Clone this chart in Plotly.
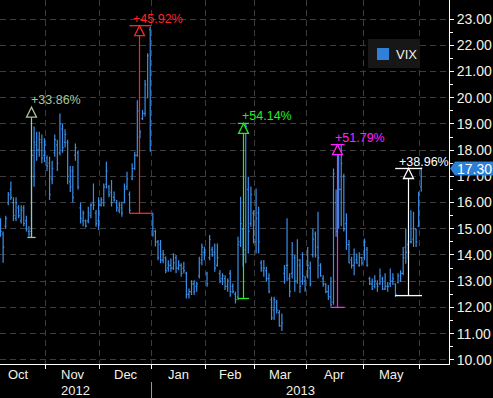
import numpy as np
import plotly.graph_objects as go

# ---------------- data ----------------
dates = [
    "2012-10-04", "2012-10-05", "2012-10-08", "2012-10-09", "2012-10-10", "2012-10-11", "2012-10-12",
    "2012-10-15", "2012-10-16", "2012-10-17", "2012-10-18", "2012-10-19", "2012-10-22", "2012-10-23",
    "2012-10-24", "2012-10-25", "2012-10-26", "2012-10-31",
    "2012-11-01", "2012-11-02", "2012-11-05", "2012-11-06", "2012-11-07", "2012-11-08", "2012-11-09",
    "2012-11-12", "2012-11-13", "2012-11-14", "2012-11-15", "2012-11-16", "2012-11-19", "2012-11-20",
    "2012-11-21", "2012-11-23", "2012-11-26", "2012-11-27", "2012-11-28", "2012-11-29", "2012-11-30",
    "2012-12-03", "2012-12-04", "2012-12-05", "2012-12-06", "2012-12-07", "2012-12-10", "2012-12-11",
    "2012-12-12", "2012-12-13", "2012-12-14", "2012-12-17", "2012-12-18", "2012-12-19", "2012-12-20",
    "2012-12-21", "2012-12-24", "2012-12-26", "2012-12-27", "2012-12-28", "2012-12-31",
    "2013-01-02", "2013-01-03", "2013-01-04", "2013-01-07", "2013-01-08", "2013-01-09", "2013-01-10",
    "2013-01-11", "2013-01-14", "2013-01-15", "2013-01-16", "2013-01-17", "2013-01-18", "2013-01-22",
    "2013-01-23", "2013-01-24", "2013-01-25", "2013-01-28", "2013-01-29", "2013-01-30", "2013-01-31",
    "2013-02-01", "2013-02-04", "2013-02-05", "2013-02-06", "2013-02-07", "2013-02-08", "2013-02-11",
    "2013-02-12", "2013-02-13", "2013-02-14", "2013-02-15", "2013-02-19", "2013-02-20", "2013-02-21",
    "2013-02-22", "2013-02-25", "2013-02-26", "2013-02-27", "2013-02-28",
    "2013-03-01", "2013-03-04", "2013-03-05", "2013-03-06", "2013-03-07", "2013-03-08", "2013-03-11",
    "2013-03-12", "2013-03-13", "2013-03-14", "2013-03-15", "2013-03-18", "2013-03-19", "2013-03-20",
    "2013-03-21", "2013-03-22", "2013-03-25", "2013-03-26", "2013-03-27", "2013-03-28",
    "2013-04-01", "2013-04-02", "2013-04-03", "2013-04-04", "2013-04-05", "2013-04-08", "2013-04-09",
    "2013-04-10", "2013-04-11", "2013-04-12", "2013-04-15", "2013-04-16", "2013-04-17", "2013-04-18",
    "2013-04-19", "2013-04-22", "2013-04-23", "2013-04-24", "2013-04-25", "2013-04-26", "2013-04-29",
    "2013-04-30",
    "2013-05-01", "2013-05-02", "2013-05-03", "2013-05-06", "2013-05-07", "2013-05-08", "2013-05-09",
    "2013-05-10", "2013-05-13", "2013-05-14", "2013-05-15", "2013-05-16", "2013-05-17", "2013-05-20",
    "2013-05-21", "2013-05-22", "2013-05-23", "2013-05-24", "2013-05-28", "2013-05-29", "2013-05-30",
    "2013-05-31",
    "2013-06-03",
]

opens = [
    15.2, 14.8, 15.1, 16.0, 16.5, 16.0, 15.4, 15.8, 15.3, 15.8, 15.3, 14.9, 14.9, 17.0, 18.2, 18.0, 18.3, 17.8,
    17.7, 17.5, 16.9, 17.9, 18.2, 17.9, 18.8, 18.3, 18.3, 16.8, 17.2, 17.8, 17.9, 15.8, 15.3, 15.3, 15.3, 15.5, 16.0, 15.6, 15.3,
    15.9, 16.0, 16.7, 16.6, 16.4, 16.2, 16.0, 15.7, 15.8, 16.0, 16.6, 16.3, 16.9, 17.3, 17.8, 18.5, 19.2, 19.4, 20.0, 22.6,
    15.6, 14.9, 14.5, 14.4, 13.8, 13.9, 13.5, 13.6, 13.5, 13.9, 13.5, 13.6, 13.5, 13.3, 12.5, 12.6, 12.9, 12.8, 13.2, 13.8, 14.1,
    13.3, 13.9, 14.2, 14.1, 13.6, 13.3, 13.1, 13.1, 12.8, 13.3, 12.8, 12.5, 12.4, 14.5, 15.0, 14.2, 16.5, 15.2, 15.6,
    14.5, 15.6, 13.7, 13.4, 13.4, 13.1, 12.3, 11.9, 12.2, 11.8, 11.3, 13.3, 13.6, 13.1, 13.3, 13.9, 13.0, 13.6, 13.0, 13.0,
    13.2, 13.5, 14.0, 14.8, 14.3, 13.6, 13.1, 12.9, 12.6, 12.4, 12.2, 16.0, 15.2, 16.5, 17.0, 15.2, 14.4, 13.8, 13.6, 13.8, 13.6, 13.9,
    13.9, 14.2, 13.1, 12.9, 12.8, 12.9, 12.9, 13.1, 12.7, 12.8, 12.9, 13.0, 12.9, 12.95, 13.0, 13.3, 14.3, 14.4, 14.5, 14.6, 15.0, 15.1,
    16.6,
]
highs = [
    15.4, 14.9, 15.5, 16.4, 16.8, 16.2, 16.2, 15.9, 15.9, 15.9, 15.5, 15.1, 18.0, 18.9, 18.7, 18.7, 18.6, 18.45,
    17.8, 17.75, 17.6, 18.6, 18.4, 19.4, 19.0, 18.8, 18.4, 17.4, 17.4, 18.25, 18.0, 16.0, 15.7, 15.35, 15.84, 15.97, 16.73, 15.72, 16.2,
    16.2, 16.73, 17.56, 16.67, 16.86, 16.42, 16.1, 16.03, 16.03, 16.73, 17.18, 16.42, 17.5, 17.94, 19.9, 18.77, 19.53, 20.68, 21.7, 22.71,
    15.6, 14.96, 14.57, 14.57, 14.19, 13.94, 13.8, 13.87, 14.07, 14.0, 13.8, 13.68, 13.74, 13.36, 12.72, 13.04, 13.04, 12.98, 13.93, 14.44, 14.31,
    13.36, 14.76, 14.31, 14.44, 14.44, 13.43, 13.3, 13.23, 13.1, 13.43, 12.91, 12.6, 14.7, 16.22, 15.01, 19.02, 16.99, 16.61, 15.71,
    16.54, 15.84, 13.8, 13.81, 13.55, 13.3, 12.41, 12.41, 12.28, 11.9, 11.77, 13.62, 15.4, 13.3, 14.5, 14.0, 14.6, 13.85, 14.1, 13.2,
    14.3, 13.75, 15.0, 14.9, 15.65, 13.68, 13.23, 12.92, 12.85, 13.17, 17.3, 16.5, 17.9, 18.2, 17.1, 15.59, 14.57, 13.93, 14.25, 14.06, 14.1, 13.93,
    14.63, 14.3, 13.17, 13.1, 13.23, 13.04, 13.48, 13.17, 13.3, 12.97, 13.48, 13.3, 12.91, 13.3, 13.42, 14.3, 15.0, 14.56, 15.71, 15.65, 15.0, 16.41,
    17.35,
]
lows = [
    14.7, 13.7, 15.0, 15.9, 16.1, 15.3, 15.3, 15.4, 15.2, 15.1, 14.9, 14.7, 14.67, 16.6, 17.6, 17.75, 17.5, 17.55,
    17.2, 16.1, 16.7, 17.75, 17.2, 17.8, 17.9, 18.1, 16.7, 16.4, 16.0, 17.6, 16.5, 15.2, 15.1, 15.05, 15.21, 15.4, 15.72, 15.08, 14.95,
    15.85, 15.85, 16.54, 16.2, 15.85, 16.03, 15.65, 15.59, 15.46, 15.97, 16.48, 15.59, 16.86, 17.24, 17.75, 18.45, 19.15, 19.28, 19.98, 17.94,
    14.7, 14.32, 13.8, 13.68, 13.68, 13.3, 13.36, 13.36, 13.43, 13.3, 13.42, 13.17, 13.3, 12.34, 12.34, 12.47, 12.47, 12.6, 13.1, 13.61, 13.8,
    12.79, 13.8, 13.93, 13.36, 13.55, 12.92, 12.85, 12.66, 12.6, 12.41, 12.53, 12.15, 12.28, 14.3, 13.55, 13.68, 14.06, 15.08, 14.44,
    14.06, 14.06, 13.36, 13.17, 12.98, 12.54, 11.52, 11.52, 11.77, 11.26, 11.1, 12.9, 13.0, 12.4, 13.1, 12.6, 12.9, 12.55, 12.85, 12.6,
    13.1, 12.8, 13.9, 13.9, 13.1, 13.17, 12.79, 12.54, 12.28, 12.03, 12.1, 14.7, 15.0, 15.1, 14.9, 14.19, 13.68, 13.48, 13.23, 13.67, 13.55, 13.6,
    13.8, 13.55, 12.85, 12.66, 12.72, 12.6, 12.85, 12.66, 12.66, 12.6, 12.78, 12.85, 12.4, 12.91, 12.97, 13.23, 13.67, 13.86, 14.44, 14.3, 14.3, 15.07,
    16.41,
]
closes = [
    14.9, 14.3, 15.4, 16.3, 16.2, 15.5, 16.0, 15.5, 15.7, 15.2, 15.0, 14.8, 17.8, 18.3, 18.0, 18.4, 17.7, 18.2,
    17.4, 16.3, 17.3, 18.4, 17.5, 19.0, 18.1, 18.6, 17.0, 16.6, 16.2, 18.1, 16.6, 15.4, 15.6, 15.1, 15.6, 15.9, 15.9, 15.2, 15.9,
    16.1, 16.6, 17.2, 16.3, 16.0, 16.1, 15.8, 15.9, 15.6, 16.5, 16.9, 15.7, 17.3, 17.8, 19.5, 18.7, 19.4, 20.5, 21.6, 18.0,
    14.8, 14.5, 13.9, 13.8, 14.0, 13.4, 13.6, 13.5, 13.7, 13.5, 13.6, 13.3, 13.4, 12.5, 12.6, 12.9, 12.6, 12.9, 13.7, 14.3, 14.2,
    12.9, 14.6, 14.0, 13.5, 13.9, 13.0, 13.2, 12.8, 13.0, 12.6, 12.6, 12.3, 14.4, 15.2, 14.0, 18.9, 14.9, 16.3, 14.6,
    15.4, 14.5, 13.5, 13.5, 13.1, 12.6, 11.6, 12.3, 11.9, 11.3, 11.4, 13.5, 13.6, 12.6, 14.0, 13.0, 13.8, 12.8, 13.2, 12.7,
    13.6, 12.9, 14.6, 14.0, 13.9, 13.2, 12.9, 12.6, 12.4, 12.1, 17.1, 14.9, 16.5, 17.5, 15.0, 14.4, 13.7, 13.6, 13.7, 13.7, 13.9, 13.7,
    14.5, 13.6, 12.9, 12.7, 13.0, 12.8, 13.2, 12.7, 12.8, 12.8, 13.0, 13.1, 12.5, 13.2, 13.3, 13.9, 14.1, 14.1, 14.5, 15.0, 14.5, 16.3,
    17.3,
]

month_labels = ["Oct", "Nov", "Dec", "Jan", "Feb", "Mar", "Apr", "May"]
year_labels = ["2012", "2013"]
y_ticks = list(range(10, 24))

pct_labels = ["+33.86%", "+45.92%", "+54.14%", "+51.79%", "+38.96%"]
pct_low_dates = ["2012-10-22", "2012-12-18", "2013-02-20", "2013-04-12", "2013-05-17"]
pct_high_dates = ["2012-10-22", "2012-12-31", "2013-02-26", "2013-04-19", "2013-06-03"]
pct_low_vals = [14.67, 15.59, 12.34, 12.00, 12.45]
pct_high_vals = [19.64, 22.75, 19.02, 18.21, 17.30]
pct_colors = ["#a7c597", "#ff2424", "#22ee22", "#ff22ff", "#ffffff"]

# ---------------- styling ----------------
BLUE = "#3a8ee6"
TXT = "#f3f0e4"
GRID = "#3c3c3c"
FONT = "Arial, Liberation Sans, sans-serif"
X0, X1 = -0.21, 173.75
Y0, Y1 = 9.84, 23.73
PX_Y = (Y1 - Y0) / 364.0   # value per pixel
PX_X = (X1 - X0) / 449.0   # index per pixel


def snap_x(v):
    """move an x value to the centre of its screen pixel (crisp 1px lines)"""
    p = (v - X0) / PX_X
    return X0 + (np.floor(p) + 0.5) * PX_X


n = len(dates)
xs = np.arange(n)
pos = {d: i for i, d in enumerate(dates)}

months = [d[:7] for d in dates]
bounds = [i - 0.5 for i in range(1, n) if months[i] != months[i - 1]]
lead = int(np.busday_count(dates[0][:8] + "01", dates[0]))
m_starts = [-0.5 - lead] + bounds
m_ends = bounds + [None]
year_bounds = [i - 0.5 for i in range(1, n) if dates[i][:4] != dates[i - 1][:4]]

fig = go.Figure()
fig.add_trace(go.Ohlc(
    x=xs, open=opens, high=highs, low=lows, close=closes, name="VIX",
    increasing=dict(line=dict(color=BLUE, width=1.2)),
    decreasing=dict(line=dict(color=BLUE, width=1.2)),
    tickwidth=0.45, showlegend=False, hoverinfo="skip",
))
# small triangles on the price axis
fig.add_trace(go.Scatter(
    x=[X1 + 1.0] * len(y_ticks), y=y_ticks, mode="markers", cliponaxis=False,
    marker=dict(symbol="triangle-right", size=5, color="white", line=dict(width=0)),
    showlegend=False, hoverinfo="skip",
))

# percentage-change markers
tri_h = 10 * PX_Y
tri_w = 5 * PX_X
for lab, d0, d1, lo, hi, col in zip(pct_labels, pct_low_dates, pct_high_dates,
                                    pct_low_vals, pct_high_vals, pct_colors):
    xl, xh = pos[d0], pos[d1]
    xm = snap_x((xl + xh) / 2)
    c0 = min(xl - 0.1, xm - 1.6)
    c1 = max(xh + 0.3, xm + 1.6)
    fig.add_shape(type="line", x0=xm, x1=xm, y0=lo, y1=hi - tri_h, line=dict(color=col, width=1.2))
    fig.add_shape(type="line", x0=c0, x1=c1, y0=lo, y1=lo, line=dict(color=col, width=1.3))
    if xh != xl:
        fig.add_shape(type="line", x0=c0, x1=c1, y0=hi, y1=hi, line=dict(color=col, width=1.3))
    fig.add_shape(type="path",
                  path=f"M {xm - tri_w},{hi - tri_h} L {xm},{hi} L {xm + tri_w},{hi - tri_h} Z",
                  fillcolor="black", line=dict(color=col, width=1.3))
    fig.add_annotation(x=c0, y=hi, xref="x", yref="y", text=lab, showarrow=False,
                       xanchor="left", yanchor="middle", xshift=2, yshift=7,
                       font=dict(color=col, size=12.5, family=FONT))

# month / year labels
for k, lab in enumerate(month_labels):
    cx = (m_starts[k] + m_ends[k]) / 2
    fig.add_annotation(x=cx, y=0, xref="x", yref="paper", text=lab, showarrow=False,
                       xanchor="center", yanchor="middle", yshift=-10,
                       font=dict(color=TXT, size=13, family=FONT))
yb = [X0] + year_bounds + [X1]
for k, lab in enumerate(year_labels):
    cx = (yb[k] + yb[k + 1]) / 2
    fig.add_annotation(x=cx, y=0, xref="x", yref="paper", text=lab, showarrow=False,
                       xanchor="center", yanchor="middle", yshift=-26,
                       font=dict(color=TXT, size=13, family=FONT))
for b in year_bounds:
    fig.add_shape(type="line", xref="x", yref="paper", x0=b, x1=b, y0=-18 / 364, y1=-34 / 364,
                  line=dict(color="#9a9a9a", width=1))

# legend box
fig.add_shape(type="rect", xref="paper", yref="paper", x0=368 / 449, x1=420 / 449,
              y0=(364 - 68) / 364, y1=(364 - 39) / 364, fillcolor="#171717", line_width=0)
fig.add_shape(type="rect", xref="paper", yref="paper", x0=377 / 449, x1=389 / 449,
              y0=(364 - 60) / 364, y1=(364 - 48) / 364, fillcolor="#2f80d8", line_width=0)
fig.add_annotation(xref="paper", yref="paper", x=394 / 449, y=(364 - 54) / 364, text="VIX",
                   showarrow=False, xanchor="left", yanchor="middle",
                   font=dict(color=TXT, size=13, family=FONT))

# last price tag
last = closes[-1]
hh = 7 * PX_Y
fig.add_shape(type="path", xref="paper", yref="y", layer="above",
              path=(f"M {450/449},{last} L {455/449},{last + hh} L {493/449},{last + hh} "
                    f"L {493/449},{last - hh} L {455/449},{last - hh} Z"),
              fillcolor="#2b7fd4", line_width=0)
fig.add_annotation(xref="paper", yref="y", x=474.5 / 449, y=last, text=f"{last:.2f}",
                   showarrow=False, xanchor="center", yanchor="middle",
                   font=dict(color="white", size=14, family=FONT))

fig.update_layout(
    width=493, height=398, margin=dict(l=0, r=44, t=0, b=34),
    paper_bgcolor="black", plot_bgcolor="black", showlegend=False,
    font=dict(family=FONT, color=TXT),
)
fig.update_xaxes(
    range=[X0, X1], tickmode="array", tickvals=bounds, ticktext=[""] * len(bounds),
    ticks="outside", ticklen=4, tickcolor="white", tickwidth=1,
    showgrid=True, gridcolor=GRID, griddash="6px,4px", gridwidth=1,
    showline=True, linecolor="white", linewidth=1, zeroline=False,
    rangeslider=dict(visible=False), fixedrange=True,
)
fig.update_yaxes(
    range=[Y0, Y1], side="right", tickmode="array", tickvals=y_ticks,
    ticktext=[f"{v:.2f}" for v in y_ticks], ticks="outside", ticklen=4,
    tickcolor="white", tickfont=dict(size=14, color=TXT, family=FONT),
    showgrid=True, gridcolor=GRID, griddash="6px,4px", gridwidth=1,
    showline=True, linecolor="white", linewidth=1, zeroline=False, fixedrange=True,
    minor=dict(tickmode="array", tickvals=[v + 0.5 for v in y_ticks[:-1]],
               ticks="outside", ticklen=3, tickcolor="white", showgrid=False),
)

fig.write_html("out.html", config={"displayModeBar": False},
               post_script="document.body.style.margin='0px';document.body.style.background='black';")
